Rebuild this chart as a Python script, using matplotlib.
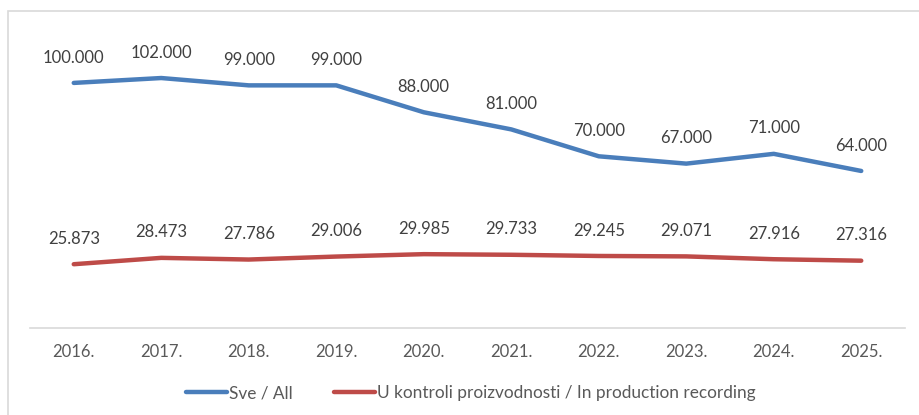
import matplotlib
matplotlib.use("Agg")
import matplotlib.pyplot as plt
from matplotlib.patches import Rectangle

years = ["2016.", "2017.", "2018.", "2019.", "2020.", "2021.", "2022.", "2023.", "2024.", "2025."]
sve_all = [100.000, 102.000, 99.000, 99.000, 88.000, 81.000, 70.000, 67.000, 71.000, 64.000]
u_kontroli = [25.873, 28.473, 27.786, 29.006, 29.985, 29.733, 29.245, 29.071, 27.916, 27.316]
series_names = ["Sve / All", "U kontroli proizvodnosti / In production recording"]

plt.rcParams['font.family'] = ['Lato', 'DejaVu Sans']

W, H = 919, 415
fig = plt.figure(figsize=(W / 100, H / 100), dpi=100)
fig.patch.set_facecolor("white")

# border (partially cropped)
fig.add_artist(Rectangle((8 / W, -0.1), 1.2, 1 - 11 / H + 0.1, transform=fig.transFigure,
                         fill=False, edgecolor="#d9d9d9", linewidth=1.2))

ax = fig.add_axes([30 / W, 1 - 327.5 / H, 875 / W, (327.5 - 34) / H])
x = list(range(len(years)))
blue = "#4A7EBB"
red = "#BE4B48"
l1, = ax.plot(x, sve_all, color=blue, lw=3.2, solid_capstyle="round", solid_joinstyle="round")
l2, = ax.plot(x, u_kontroli, color=red, lw=3.2, solid_capstyle="round", solid_joinstyle="round")

for xi, v in zip(x, sve_all):
    ax.annotate(f"{v:.3f}", (xi, v), xytext=(0, 12.5), textcoords="offset points",
                ha="center", va="bottom", fontsize=12, color="#404040")
for xi, v in zip(x, u_kontroli):
    ax.annotate(f"{v:.3f}", (xi, v), xytext=(0, 12.5), textcoords="offset points",
                ha="center", va="bottom", fontsize=12, color="#404040")

ax.set_xlim(-0.5, len(years) - 0.5)
ax.set_ylim(0, 120)
ax.set_xticks(x)
ax.set_xticklabels(years, fontsize=12, color="#595959")
ax.tick_params(axis="x", length=0, pad=12)
ax.set_yticks([])
for s in ["top", "right", "left"]:
    ax.spines[s].set_visible(False)
ax.spines["bottom"].set_color("#d9d9d9")
ax.spines["bottom"].set_linewidth(1.2)

fig.legend([l1, l2], series_names, loc="center", bbox_to_anchor=(0.5 + 11 / W, 1 - 393 / H),
           ncol=2, frameon=False, fontsize=12.4, labelcolor="#595959",
           handlelength=2.4, handletextpad=0.1, columnspacing=2.4)

fig.savefig("out.png", dpi=100, facecolor="white")
